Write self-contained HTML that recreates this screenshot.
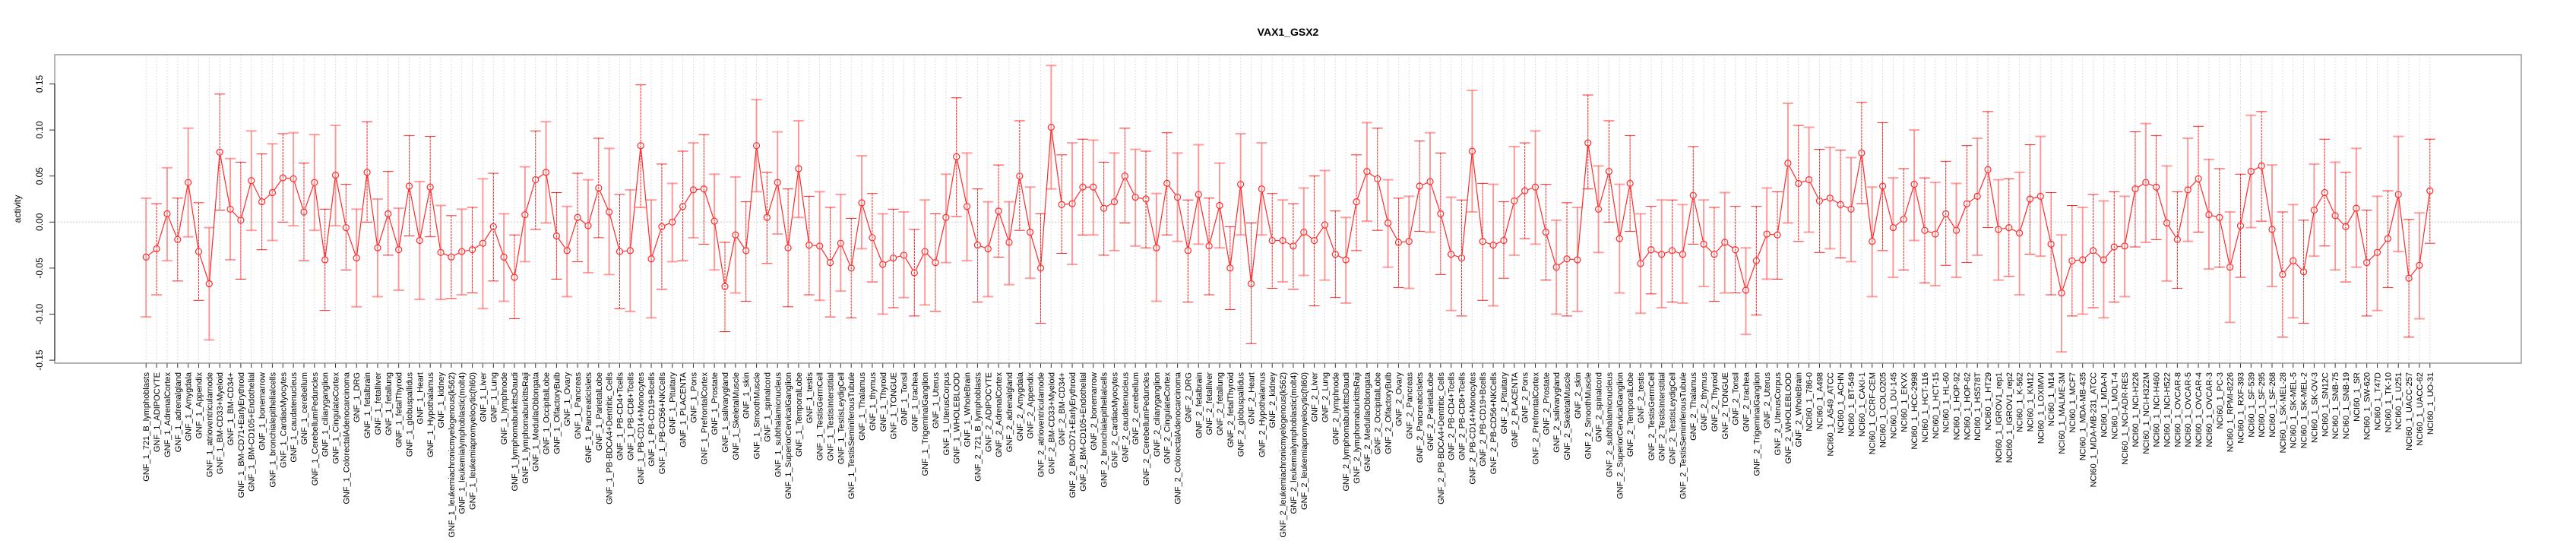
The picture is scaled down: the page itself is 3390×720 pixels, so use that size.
<!DOCTYPE html>
<html><head><meta charset="utf-8"><style>
html,body{margin:0;padding:0;background:#fff;}
svg{display:block;font-family:"Liberation Sans",Arial,sans-serif;}
</style></head><body>
<svg id="chart" width="3390" height="720" viewBox="0 0 3390 720" xmlns="http://www.w3.org/2000/svg">
<text x="1695" y="47" text-anchor="middle" font-size="14" font-weight="bold">VAX1_GSX2</text>
<text transform="translate(27,275) rotate(-90)" text-anchor="middle" font-size="12">activity</text>
<g id="grid"></g><g id="bars"></g><g id="series"></g><g id="axes"></g>
</svg>
<script>
const tissues = ["721_B_lymphoblasts","ADIPOCYTE","AdrenalCortex","adrenalgland","Amygdala","Appendix","atrioventricularnode","BM-CD33+Myeloid","BM-CD34+","BM-CD71+EarlyErythroid","BM-CD105+Endothelial","bonemarrow","bronchialepithelialcells","CardiacMyocytes","caudatenucleus","cerebellum","CerebellumPeduncles","ciliaryganglion","CingulateCortex","ColorectalAdenocarcinoma","DRG","fetalbrain","fetalliver","fetallung","fetalThyroid","globuspallidus","Heart","Hypothalamus","kidney","leukemiachronicmyelogenous(k562)","leukemialymphoblastic(molt4)","leukemiapromyelocytic(hl60)","Liver","Lung","lymphnode","lymphomaburkittsDaudi","lymphomaburkittsRaji","MedullaOblongata","OccipitalLobe","OlfactoryBulb","Ovary","Pancreas","PancreaticIslets","ParietalLobe","PB-BDCA4+Dentritic_Cells","PB-CD4+Tcells","PB-CD8+Tcells","PB-CD14+Monocytes","PB-CD19+Bcells","PB-CD56+NKCells","Pituitary","PLACENTA","Pons","PrefrontalCortex","Prostate","salivarygland","SkeletalMuscle","skin","SmoothMuscle","spinalcord","subthalamicnucleus","SuperiorCervicalGanglion","TemporalLobe","testis","TestisGermCell","TestisInterstitial","TestisLeydigCell","TestisSeminiferousTubule","Thalamus","thymus","Thyroid","TONGUE","Tonsil","trachea","TrigeminalGanglion","Uterus","UterusCorpus","WHOLEBLOOD","WholeBrain"];
const nciLines = ["786-0","A498","A549_ATCC","ACHN","BT-549","CAKI-1","CCRF-CEM","COLO205","DU-145","EKVX","HCC-2998","HCT-116","HCT-15","HL-60","HOP-92","HOP-62","HS578T","HT29","IGROV1_rep1","IGROV1_rep2","K-562","KM12","LOXIMVI","M14","MALME-3M","MCF7","MDA-MB-435","MDA-MB-231_ATCC","MDA-N","MOLT-4","NCI-ADR-RES","NCI-H226","NCI-H322M","NCI-H460","NCI-H522","OVCAR-8","OVCAR-5","OVCAR-4","OVCAR-3","PC-3","RPMI-8226","RXF-393","SF-539","SF-295","SF-268","SK-MEL-28","SK-MEL-5","SK-MEL-2","SK-OV-3","SN12C","SNB-75","SNB-19","SR","SW-620","T47D","TK-10","U251","UACC-257","UACC-62","UO-31"];
const categories = tissues.map(t=>"GNF_1_"+t).concat(tissues.map(t=>"GNF_2_"+t)).concat(nciLines.map(t=>"NCI60_1_"+t));
const means = [-0.038,-0.029,0.009,-0.019,0.043,-0.032,-0.067,0.076,0.014,0.002,0.045,0.022,0.032,0.048,0.047,0.011,0.043,-0.041,0.051,-0.006,-0.039,0.054,-0.028,0.009,-0.030,0.039,-0.020,0.038,-0.033,-0.038,
-0.032,-0.030,-0.023,-0.005,-0.038,-0.060,0.008,0.046,0.054,-0.015,-0.031,0.005,-0.004,0.037,0.011,-0.032,-0.031,0.083,-0.040,-0.005,0.000,0.017,0.035,0.036,0.001,-0.070,-0.014,-0.031,0.083,0.005,0.043,-0.028,0.058,-0.025,-0.026,-0.044,-0.023,-0.050,0.021,-0.017,-0.046,-0.039,-0.036,
-0.055,-0.032,-0.044,0.005,0.071,0.017,-0.025,-0.029,0.012,-0.022,0.050,-0.011,-0.050,0.103,0.019,0.020,0.038,0.038,0.015,0.022,0.050,0.027,0.025,-0.028,0.042,0.027,-0.031,0.030,-0.026,0.018,-0.050,0.041,-0.067,0.036,-0.020,-0.020,-0.026,-0.011,-0.020,-0.003,-0.035,-0.041,0.022,
0.055,0.047,-0.001,-0.022,-0.021,0.039,0.044,0.009,-0.035,-0.039,0.077,-0.021,-0.025,-0.020,0.023,0.034,0.038,-0.011,-0.049,-0.040,-0.041,0.086,0.014,0.055,-0.018,0.042,-0.045,-0.030,-0.035,-0.031,-0.035,0.029,-0.024,-0.035,-0.022,-0.030,-0.074,-0.042,-0.013,-0.014,0.064,0.042,
0.046,0.023,0.026,0.019,0.014,0.075,-0.021,0.039,-0.006,0.003,0.041,-0.009,-0.013,0.009,-0.009,0.020,0.028,0.057,-0.008,-0.006,-0.012,0.025,0.028,-0.024,-0.077,-0.042,-0.041,-0.031,-0.041,-0.027,-0.026,0.036,0.043,0.038,-0.001,-0.019,0.035,0.047,0.008,0.005,-0.049,-0.004,0.055,0.061,-0.008,
-0.057,-0.042,-0.054,0.013,0.032,0.007,-0.005,0.015,-0.044,-0.033,-0.018,0.030,-0.061,-0.047,0.034];
const upper = [0.026,0.020,0.059,0.026,0.102,0.021,-0.006,0.139,0.069,0.065,0.099,0.074,0.085,0.096,0.097,0.064,0.095,0.014,0.105,0.041,0.014,0.109,0.025,0.055,0.015,0.094,0.044,0.093,0.018,0.007,
0.014,0.016,0.047,0.053,0.009,-0.014,0.060,0.099,0.109,0.032,0.017,0.053,0.046,0.091,0.080,0.030,0.035,0.149,0.024,0.063,0.042,0.077,0.086,0.095,0.052,-0.022,0.049,0.022,0.133,0.054,0.098,0.036,0.110,0.028,0.033,0.016,0.030,0.004,0.072,0.031,0.009,0.014,0.011,
-0.008,0.024,0.009,0.052,0.135,0.075,0.036,0.022,0.062,0.022,0.110,0.038,0.009,0.170,0.073,0.086,0.090,0.089,0.065,0.075,0.102,0.079,0.077,0.031,0.097,0.075,0.024,0.084,0.026,0.064,-0.005,0.096,-0.001,0.086,0.031,0.024,0.020,0.037,0.050,0.056,0.012,0.005,0.073,
0.108,0.102,0.046,0.026,0.028,0.088,0.097,0.075,0.027,0.024,0.143,0.042,0.041,0.022,0.082,0.086,0.099,0.041,0.002,0.021,0.016,0.138,0.061,0.110,0.041,0.094,0.009,0.017,0.024,0.024,0.019,0.082,0.024,0.016,0.032,0.017,-0.028,0.017,0.037,0.033,0.129,0.105,
0.103,0.079,0.081,0.078,0.070,0.130,0.038,0.108,0.048,0.058,0.100,0.048,0.043,0.066,0.042,0.083,0.091,0.120,0.046,0.047,0.054,0.084,0.093,0.032,-0.014,0.018,0.016,0.030,0.023,0.033,0.028,0.098,0.107,0.094,0.061,0.033,0.091,0.104,0.068,0.058,0.011,0.052,0.116,0.120,0.062,
0.011,0.019,0.002,0.063,0.090,0.065,0.054,0.080,0.013,0.028,0.034,0.093,0.003,0.010,0.090];
const lower = [-0.103,-0.079,-0.042,-0.064,-0.016,-0.085,-0.128,0.013,-0.041,-0.062,-0.009,-0.030,-0.020,0.000,-0.004,-0.042,-0.009,-0.096,-0.004,-0.052,-0.092,0.000,-0.081,-0.036,-0.074,-0.015,-0.084,-0.016,-0.084,-0.083,
-0.079,-0.077,-0.094,-0.064,-0.086,-0.105,-0.043,-0.008,-0.001,-0.062,-0.081,-0.043,-0.055,-0.017,-0.057,-0.094,-0.097,0.016,-0.104,-0.073,-0.043,-0.042,-0.017,-0.024,-0.052,-0.119,-0.077,-0.086,0.033,-0.045,-0.013,-0.092,0.005,-0.079,-0.085,-0.103,-0.075,-0.104,-0.029,-0.065,-0.100,-0.093,-0.082,
-0.102,-0.090,-0.097,-0.044,0.006,-0.042,-0.087,-0.081,-0.038,-0.068,-0.009,-0.061,-0.110,0.036,-0.034,-0.046,-0.014,-0.014,-0.036,-0.031,-0.001,-0.026,-0.028,-0.086,-0.014,-0.021,-0.087,-0.024,-0.079,-0.028,-0.095,-0.014,-0.132,-0.014,-0.072,-0.065,-0.073,-0.058,-0.091,-0.063,-0.082,-0.088,-0.031,
0.001,-0.009,-0.049,-0.071,-0.072,-0.010,-0.011,-0.057,-0.096,-0.102,0.011,-0.085,-0.091,-0.061,-0.036,-0.018,-0.024,-0.063,-0.100,-0.102,-0.097,0.036,-0.033,0.000,-0.077,-0.010,-0.099,-0.078,-0.093,-0.087,-0.088,-0.024,-0.070,-0.086,-0.077,-0.077,-0.122,-0.101,-0.062,-0.062,-0.001,-0.021,
-0.011,-0.033,-0.029,-0.039,-0.043,0.020,-0.081,-0.031,-0.060,-0.052,-0.020,-0.066,-0.069,-0.047,-0.060,-0.044,-0.036,-0.006,-0.063,-0.059,-0.079,-0.035,-0.037,-0.079,-0.141,-0.102,-0.100,-0.093,-0.104,-0.087,-0.081,-0.027,-0.022,-0.019,-0.064,-0.072,-0.021,-0.011,-0.051,-0.049,-0.109,-0.060,-0.006,0.001,-0.070,
-0.125,-0.104,-0.110,-0.037,-0.026,-0.052,-0.065,-0.049,-0.102,-0.096,-0.071,-0.032,-0.125,-0.105,-0.023];
const yTicks = [-0.15,-0.10,-0.05,0.00,0.05,0.10,0.15];
const yTickLabels = ["-0.15","-0.10","-0.05","0.00","0.05","0.10","0.15"];

const L=72,R=3318,T=72,B=478;
const n=categories.length;
const pad=(n-1)*0.04;
function xs(i){return L+(i+pad)/((n-1)+2*pad)*(R-L);}
function ys(v){return 292.3-v*1212;}
const NS="http://www.w3.org/2000/svg";
function mk(tag,attrs,parent){const e=document.createElementNS(NS,tag);for(const k in attrs)e.setAttribute(k,attrs[k]);parent.appendChild(e);return e;}
const grid=document.getElementById('grid'),bars=document.getElementById('bars'),series=document.getElementById('series'),axes=document.getElementById('axes');

// zero line
const z=mk('line',{x1:L,x2:R,y1:ys(0),y2:ys(0),stroke:'#ccc','stroke-dasharray':'2,2','stroke-width':1},grid);



for(let i=0;i<n;i++){
  const x=xs(i);
  const g=mk('line',{x1:x,x2:x,y1:T,y2:B,stroke:'#ddd','stroke-dasharray':'2,2','stroke-width':1},grid);
  
  
  const thick=(i%2===0);
  const col=thick?'rgba(255,80,80,0.55)':'rgba(255,0,0,0.85)';
  const sw=thick?2:1;
  const eb=mk('g',{stroke:col,'stroke-width':sw},bars);
  
  
  mk('line',{x1:x,x2:x,y1:ys(upper[i]),y2:ys(lower[i]),'stroke-dasharray':thick?'none':'3,1'},eb);
  mk('line',{x1:x-7,x2:x+7,y1:ys(upper[i]),y2:ys(upper[i])},eb);
  mk('line',{x1:x-7,x2:x+7,y1:ys(lower[i]),y2:ys(lower[i])},eb);
  // x tick
  const tk=mk('line',{x1:x,x2:x,y1:B,y2:B+6,stroke:'#333','stroke-width':1},axes);
  
  
  const lb=mk('text',{transform:`translate(${x+4},${B+12}) rotate(-90)`,'text-anchor':'end','font-size':'11',fill:'#000'},axes);
  lb.textContent=categories[i];
  
  
}
// series line with gaps at circles
let d='';
for(let i=0;i<n-1;i++){
  const x1=xs(i),y1=ys(means[i]),x2=xs(i+1),y2=ys(means[i+1]);
  const dx=x2-x1,dy=y2-y1,len=Math.hypot(dx,dy);
  if(len<9)continue;
  const ux=dx/len*4.5,uy=dy/len*4.5;
  d+=`M${x1+ux},${y1+uy}L${x2-ux},${y2-uy}`;
}
const ln=mk('path',{d:d,stroke:'#ff2a2a','stroke-width':1.2,fill:'none'},series);


for(let i=0;i<n;i++){
  const c=mk('circle',{cx:xs(i),cy:ys(means[i]),r:4,stroke:'#ff2a2a','stroke-width':1.2,fill:'none'},series);
  
  
}
// box
const box=mk('rect',{x:L,y:T,width:R-L,height:B-T,fill:'none',stroke:'#999','stroke-width':1.5},axes);


const ya=mk('line',{x1:L,x2:L,y1:ys(0.15),y2:ys(-0.15),stroke:'#555','stroke-width':1.5},axes);


for(let k=0;k<yTicks.length;k++){
  const y=ys(yTicks[k]);
  const t=mk('line',{x1:L-7,x2:L,y1:y,y2:y,stroke:'#333','stroke-width':1},axes);
  
  
  const tl=mk('text',{transform:`translate(${L-16},${y}) rotate(-90)`,'text-anchor':'middle','font-size':'12',fill:'#000'},axes);
  tl.textContent=yTickLabels[k];
  
  
}
</script>
</body></html>
